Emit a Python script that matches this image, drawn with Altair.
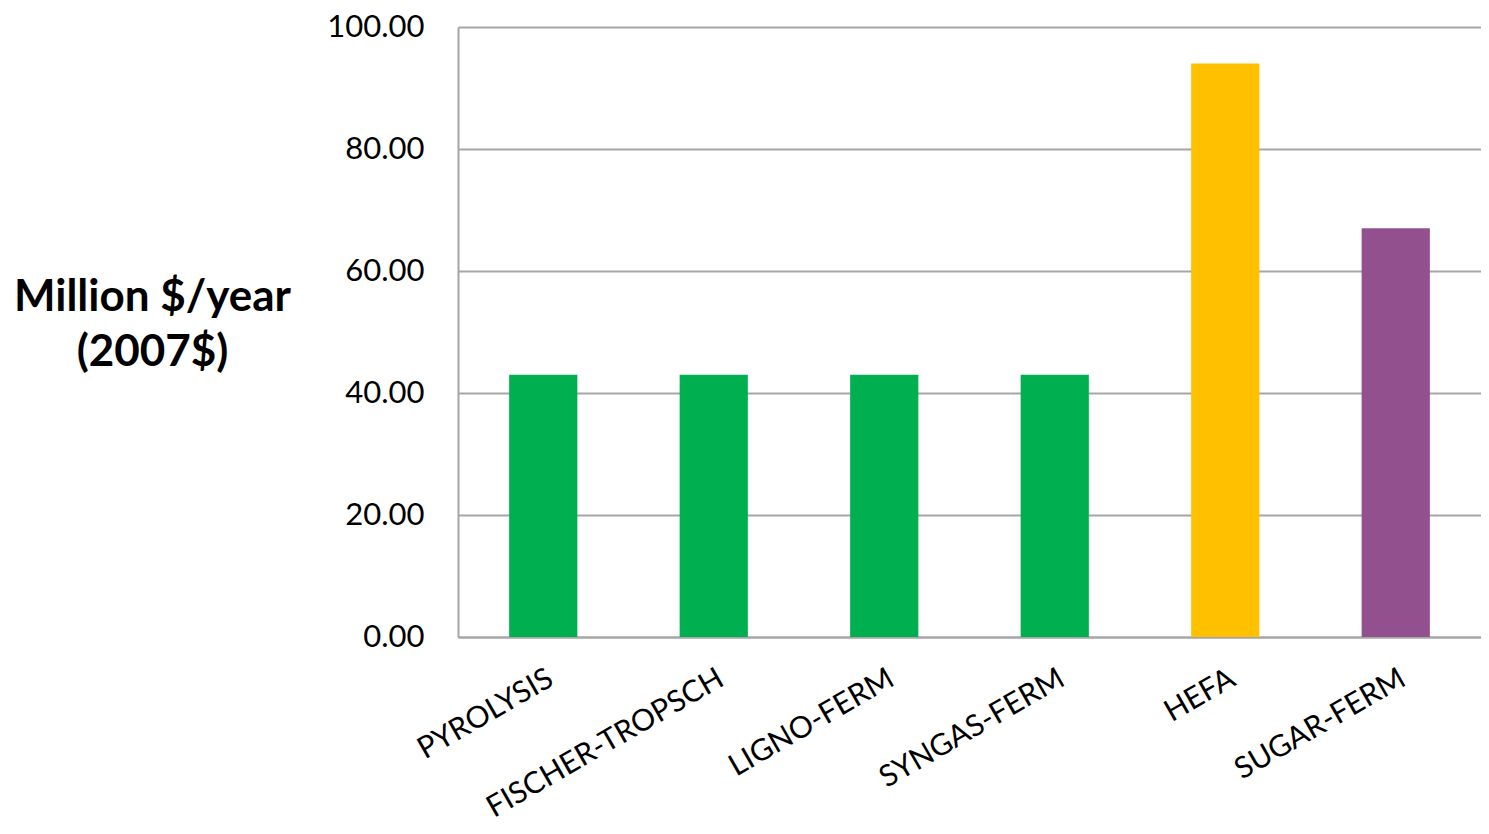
import altair as alt
import pandas as pd

categories = ["PYROLYSIS", "FISCHER-TROPSCH", "LIGNO-FERM", "SYNGAS-FERM", "HEFA", "SUGAR-FERM"]
values = [43.0, 43.0, 43.0, 43.0, 94.0, 67.0]
colors = ["#00B050", "#00B050", "#00B050", "#00B050", "#FFC000", "#92508F"]

df = pd.DataFrame({"category": categories, "value": values, "color": colors})

FONT = "Lato"

chart = alt.Chart(df).mark_bar().encode(
    x=alt.X(
        "category:N",
        sort=categories,
        scale=alt.Scale(paddingInner=0.6, paddingOuter=0.3),
        axis=alt.Axis(
            title=None,
            labelAngle=-30,
            labelAlign="right",
            labelBaseline="top",
            labelFontSize=30,
            labelFont=FONT,
            labelColor="#000000",
            labelPadding=26,
            labelLimit=0,
            ticks=False,
            domainColor="#A6A6A6",
            domainWidth=2,
            labelOverlap=False,
        ),
    ),
    y=alt.Y(
        "value:Q",
        scale=alt.Scale(domain=[0, 100]),
        axis=alt.Axis(
            values=[0, 20, 40, 60, 80, 100],
            format=".2f",
            title=["Million $/year", "(2007$)"],
            titleAngle=0,
            titleAlign="center",
            titleBaseline="middle",
            titleX=-306,
            titleY=270,
            titleFontSize=44,
            titleFont=FONT,
            titleFontWeight="bold",
            titleColor="#000000",
            titleLineHeight=55,
            labelFontSize=31,
            labelFont=FONT,
            labelColor="#000000",
            labelPadding=34,
            ticks=False,
            domainColor="#A6A6A6",
            domainWidth=2,
            gridColor="#A6A6A6",
            gridWidth=2,
        ),
    ),
    color=alt.Color("color:N", scale=None, legend=None),
).properties(
    width=1023,
    height=610,
    autosize=alt.AutoSizeParams(type="none"),
    padding={"left": 450, "top": 19, "right": 0, "bottom": 189},
).configure_view(stroke=None)

chart.save("out.html", embed_options={"renderer": "svg", "actions": False})
